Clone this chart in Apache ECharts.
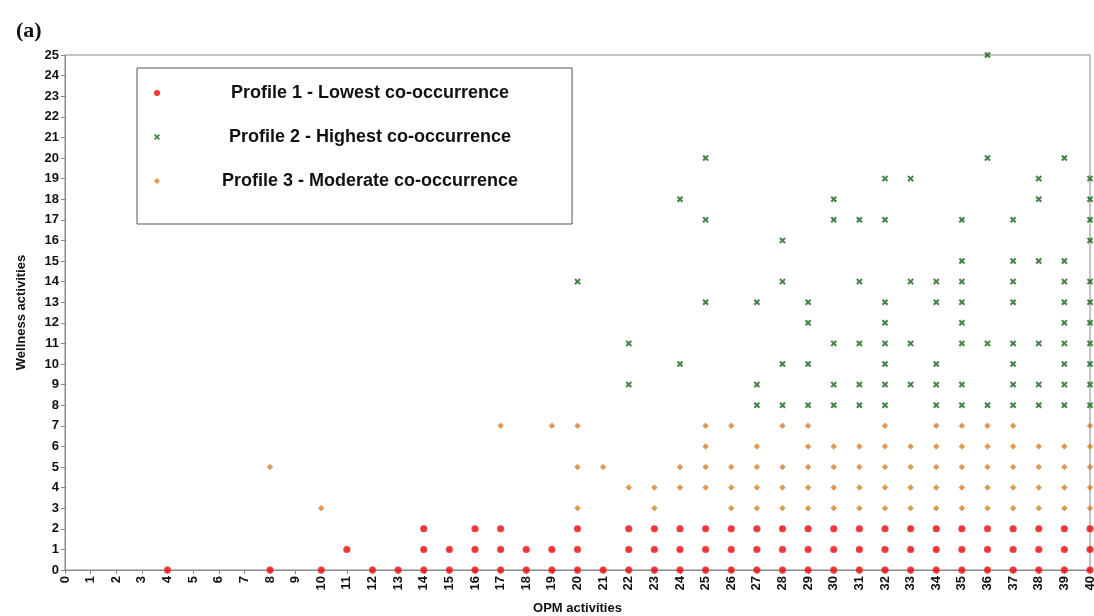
<!DOCTYPE html>
<html>
<head>
<meta charset="utf-8">
<script src="https://cdn.jsdelivr.net/npm/echarts@6/dist/echarts.min.js"></script>
<style>html,body{margin:0;padding:0;background:#fff}#c{width:1094px;height:616px}</style>
</head>
<body>
<div id="c"></div>
<script>
// Data: [OPM activities (x), list of Wellness activities values (y)]
const seriesNames = [
  'Profile 1 - Lowest co-occurrence',
  'Profile 2 - Highest co-occurrence',
  'Profile 3 - Moderate co-occurrence'
];
const profile1 = [
  [4,[0]],[8,[0]],[10,[0]],[11,[1]],[12,[0]],[13,[0]],[14,[0,1,2]],[15,[0,1]],
  [16,[0,1,2]],[17,[0,1,2]],[18,[0,1]],[19,[0,1]],[20,[0,1,2]],[21,[0]],
  [22,[0,1,2]],[23,[0,1,2]],[24,[0,1,2]],[25,[0,1,2]],[26,[0,1,2]],[27,[0,1,2]],
  [28,[0,1,2]],[29,[0,1,2]],[30,[0,1,2]],[31,[0,1,2]],[32,[0,1,2]],[33,[0,1,2]],
  [34,[0,1,2]],[35,[0,1,2]],[36,[0,1,2]],[37,[0,1,2]],[38,[0,1,2]],[39,[0,1,2]],
  [40,[0,1,2]]
];
const profile2 = [
  [20,[14]],[22,[9,11]],[24,[10,18]],[25,[13,17,20]],[27,[8,9,13]],
  [28,[8,10,14,16]],[29,[8,10,12,13]],[30,[8,9,11,17,18]],[31,[8,9,11,14,17]],
  [32,[8,9,10,11,12,13,17,19]],[33,[9,11,14,19]],[34,[8,9,10,13,14]],
  [35,[8,9,11,12,13,14,15,17]],[36,[8,11,20,25]],[37,[8,9,10,11,13,14,15,17]],
  [38,[8,9,11,15,18,19]],[39,[8,9,10,11,12,13,14,15,20]],
  [40,[8,9,10,11,12,13,14,16,17,18,19]]
];
const profile3 = [
  [8,[5]],[10,[3]],[17,[7]],[19,[7]],[20,[3,5,7]],[21,[5]],[22,[4]],[23,[3,4]],
  [24,[4,5]],[25,[4,5,6,7]],[26,[3,4,5,7]],[27,[3,4,5,6]],[28,[3,4,5,7]],
  [29,[3,4,5,6,7]],[30,[3,4,5,6]],[31,[3,4,5,6]],[32,[3,4,5,6,7]],[33,[3,4,5,6]],
  [34,[3,4,5,6,7]],[35,[3,4,5,6,7]],[36,[3,4,5,6,7]],[37,[3,4,5,6,7]],
  [38,[3,4,5,6]],[39,[3,4,5,6]],[40,[3,4,5,6,7]]
];
const xMin = 0, xMax = 40, yMin = 0, yMax = 25;

function flatten(list){
  const out = [];
  list.forEach(([x, ys]) => ys.forEach(y => out.push([x, y])));
  return out;
}

const xShape = 'path://M2,0 L5,3 L8,0 L10,2 L7,5 L10,8 L8,10 L5,7 L2,10 L0,8 L3,5 L0,2 Z';
const fontSans = '"Liberation Sans", Arial, sans-serif';

const chart = echarts.init(document.getElementById('c'), null, {renderer: 'canvas'});
chart.setOption({
  animation: false,
  backgroundColor: '#fff',
  title: {
    text: '(a)', left: 11, top: 15,
    textStyle: {fontFamily: '"Liberation Serif", "DejaVu Serif", serif', fontWeight: 'bold', fontSize: 22, color: '#111'}
  },
  grid: {left: 65, right: 4, top: 55, bottom: 46, show: true, borderColor: '#888', borderWidth: 1,
         outerBoundsMode: 'none', containLabel: false},
  legend: {
    orient: 'vertical', left: 137, top: 68,
    padding: [16, 54, 34, 17],
    itemWidth: 6, itemHeight: 6, itemGap: 26,
    borderColor: '#555', borderWidth: 1,
    data: seriesNames,
    itemStyle: {borderWidth: 0},
    formatter: name => '{t|' + name + '}',
    textStyle: {
      rich: {t: {width: 410, align: 'center', fontFamily: fontSans, fontWeight: 'bold', fontSize: 18, color: '#111'}}
    }
  },
  xAxis: {
    type: 'value', min: xMin, max: xMax, interval: 1,
    name: 'OPM activities', nameLocation: 'middle', nameGap: 32,
    nameTextStyle: {fontFamily: fontSans, fontWeight: 'bold', fontSize: 13, color: '#111'},
    axisLine: {show: true, lineStyle: {color: '#888'}},
    axisTick: {show: true, length: 4, lineStyle: {color: '#888'}},
    axisLabel: {rotate: 90, fontFamily: fontSans, fontWeight: 'bold', fontSize: 13, color: '#111', margin: 6},
    splitLine: {show: false}
  },
  yAxis: {
    type: 'value', min: yMin, max: yMax, interval: 1,
    name: 'Wellness activities', nameLocation: 'middle', nameGap: 37,
    nameTextStyle: {fontFamily: fontSans, fontWeight: 'bold', fontSize: 13, color: '#111'},
    axisLine: {show: true, lineStyle: {color: '#888'}},
    axisTick: {show: true, length: 4, lineStyle: {color: '#888'}},
    axisLabel: {fontFamily: fontSans, fontWeight: 'bold', fontSize: 13, color: '#111', margin: 6},
    splitLine: {show: false}
  },
  series: [
    {
      name: seriesNames[0], type: 'scatter', data: flatten(profile1),
      symbol: 'circle', symbolSize: 7, clip: false,
      itemStyle: {color: '#ff0000', borderColor: '#999', borderWidth: 0.5}
    },
    {
      name: seriesNames[1], type: 'scatter', data: flatten(profile2),
      symbol: xShape, symbolSize: 6, clip: false,
      itemStyle: {color: '#0f6a12', borderColor: '#224422', borderWidth: 0.4}
    },
    {
      name: seriesNames[2], type: 'scatter', data: flatten(profile3),
      symbol: 'diamond', symbolSize: 6, clip: false,
      itemStyle: {color: '#e07d14', borderColor: '#999', borderWidth: 0.4}
    }
  ]
});
</script>
</body>
</html>
